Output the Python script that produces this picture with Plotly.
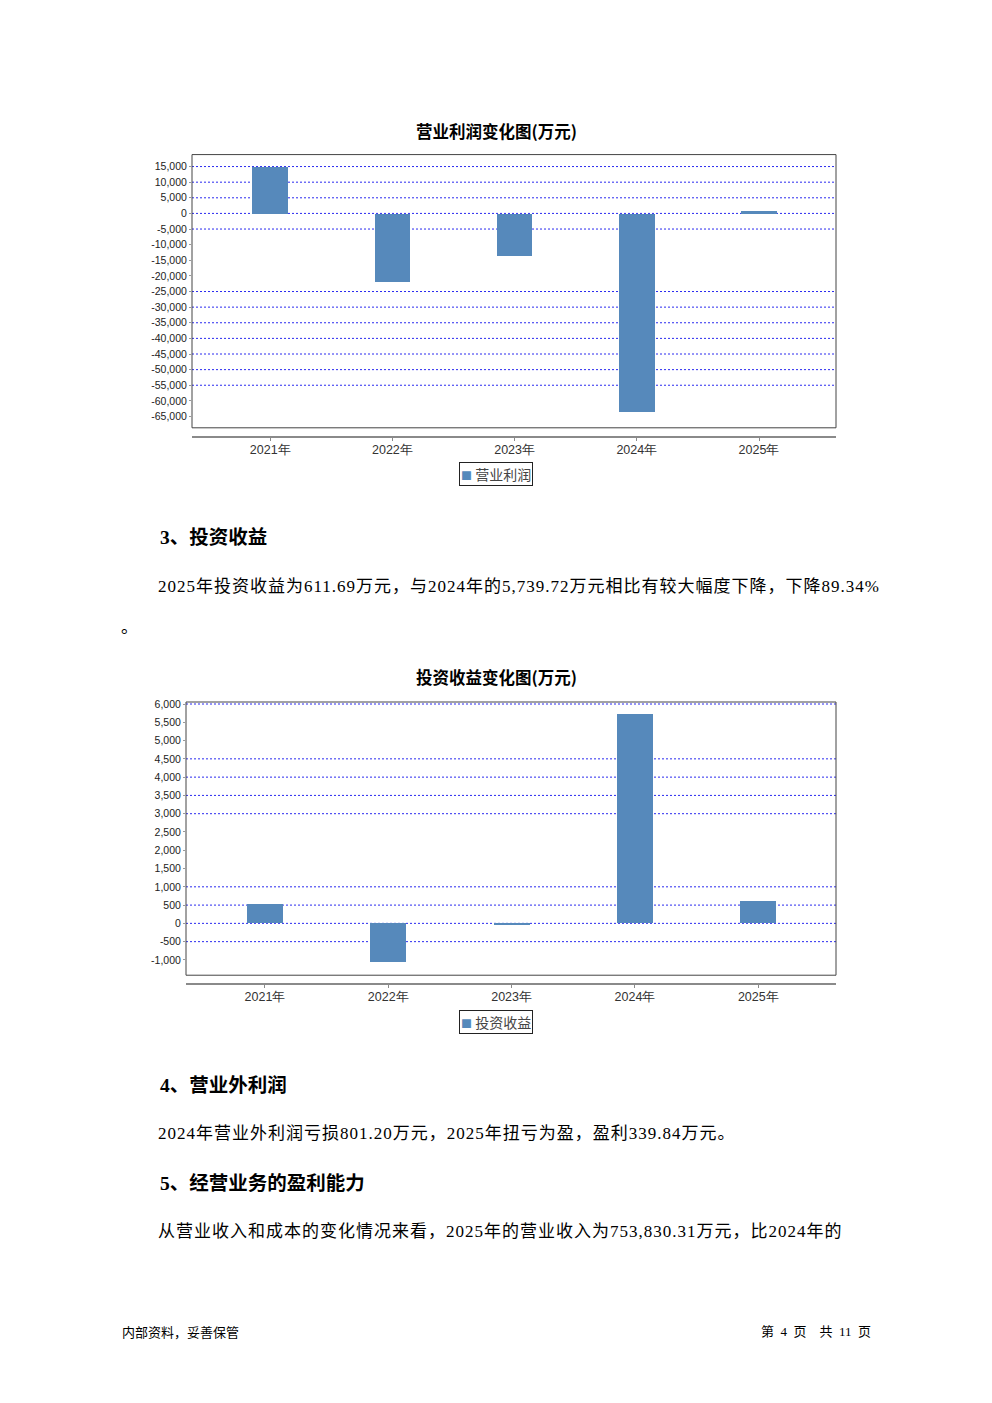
import plotly.graph_objects as go

PAGE_W, PAGE_H = 992, 1403
OFF = 8  # default body margin of the html page
OFF_Y = 10
W, H = PAGE_W - 2 * OFF, PAGE_H - 2 * OFF

years = ["2021年", "2022年", "2023年", "2024年", "2025年"]
op_profit = [14900, -21800, -13400, -63300, 950]
inv_income = [530, -1060, -18, 5739.72, 611.69]

op_ticks = list(range(-65000, 15001, 5000))
op_grid = [15000, 10000, 5000, 0, -5000, -25000, -30000, -35000, -40000, -45000, -50000, -55000]
inv_ticks = list(range(-1000, 6001, 500))
inv_grid = [6000, 4500, 4000, 3500, 3000, 1000, 500, 0, -500]

BAR = "#5689BB"
SERIF = "Liberation Serif, Noto Sans CJK SC"
CJK = "Noto Sans CJK SC"
TICKF = "Liberation Sans, Arial, sans-serif"


def py(p):
    return 1 - (p - OFF_Y) / H


def px(p):
    return (p - OFF) / W


fig = go.Figure()
fig.add_trace(go.Bar(x=years, y=op_profit, name="营业利润", marker=dict(color=BAR, line=dict(width=0)),
                     width=0.29, xaxis="x", yaxis="y", showlegend=False))
fig.add_trace(go.Bar(x=years, y=inv_income, name="投资收益", marker=dict(color=BAR, line=dict(width=0)),
                     width=0.29, xaxis="x2", yaxis="y2", showlegend=False))


def fmt(v):
    return f"{v:,}"


common_x = dict(type="category", range=[-0.64, 4.63], showgrid=False, zeroline=False,
                showline=True, linecolor="#8a8a8a", linewidth=2, ticks="outside", ticklen=3,
                tickcolor="#8a8a8a", tickfont=dict(family=TICKF, size=12.5, color="#333"),
                ticklabelstandoff=-2, anchor="free", fixedrange=True)
common_y = dict(showgrid=False, zeroline=False, showline=False, ticks="outside", ticklen=2,
                tickcolor="#999", tickfont=dict(family=TICKF, size=10.5, color="#222"), fixedrange=True)

fig.update_layout(
    width=W, height=H, margin=dict(l=0, r=0, t=0, b=0),
    paper_bgcolor="white", plot_bgcolor="white", bargap=0,
    xaxis=dict(common_x, domain=[px(192), px(836)], position=py(436)),
    yaxis=dict(common_y, domain=[py(427), py(153)], range=[-68620, 18830], anchor="x",
               tickvals=op_ticks, ticktext=[fmt(v) for v in op_ticks]),
    xaxis2=dict(common_x, domain=[px(186), px(836)], position=py(985)),
    yaxis2=dict(common_y, domain=[py(976), py(702)], range=[-1418, 6055], anchor="x2",
                tickvals=inv_ticks, ticktext=[fmt(v) for v in inv_ticks]),
)

shapes = []
for v in op_grid:
    shapes.append(dict(type="line", xref="x domain", yref="y", x0=0, x1=1, y0=v, y1=v,
                       line=dict(color="#2a2af0", width=1, dash="2px,2px"), layer="below"))
for v in inv_grid:
    shapes.append(dict(type="line", xref="x2 domain", yref="y2", x0=0, x1=1, y0=v, y1=v,
                       line=dict(color="#2a2af0", width=1, dash="2px,2px"), layer="below"))
# plot frames
shapes.append(dict(type="rect", xref="paper", yref="paper", x0=px(192), x1=px(836), y0=py(427), y1=py(153),
                   line=dict(color="#444", width=1)))
shapes.append(dict(type="rect", xref="paper", yref="paper", x0=px(186), x1=px(836), y0=py(976), y1=py(702),
                   line=dict(color="#444", width=1)))
fig.update_layout(shapes=shapes)

ann = []


def text(x, y, s, size, bold=False, family=SERIF, xanchor="left", color="#000", spacing=0):
    if spacing:
        s = f"<span style='letter-spacing:{spacing}px'>{s}</span>"
    if bold:
        s = f"<b>{s}</b>"
    ann.append(dict(x=px(x), y=py(y), xref="paper", yref="paper", text=s, showarrow=False,
                    xanchor=xanchor, yanchor="middle", font=dict(family=family, size=size, color=color)))


text(496, 129, "营业利润变化图(万元)", 16.5, bold=True, family=CJK, xanchor="center")
text(496, 677, "投资收益变化图(万元)", 16.5, bold=True, family=CJK, xanchor="center")

for cy, label in [(473.5, "营业利润"), (1022.5, "投资收益")]:
    ann.append(dict(x=px(496), y=py(cy), xref="paper", yref="paper",
                    text=f"<span style='color:{BAR};font-size:11px'>■</span> {label}", showarrow=False,
                    xanchor="center", yanchor="middle", bordercolor="#222", borderwidth=1, borderpad=1,
                    font=dict(family=CJK, size=14, color="#444")))

text(158, 537, "3、投资收益", 19.5, bold=True)
text(156, 586, "2025年投资收益为611.69万元，与2024年的5,739.72万元相比有较大幅度下降，下降89.34%", 17, spacing=1)
text(119, 627, "。", 17)
text(158, 1086, "4、营业外利润", 19.5, bold=True)
text(156, 1135, "2024年营业外利润亏损801.20万元，2025年扭亏为盈，盈利339.84万元。", 17, spacing=1)
text(158, 1185, "5、经营业务的盈利能力", 19.5, bold=True)
text(156, 1233, "从营业收入和成本的变化情况来看，2025年的营业收入为753,830.31万元，比2024年的", 17, spacing=1)
text(120, 1333, "内部资料，妥善保管", 13, family=CJK)
text(873, 1333, "第&nbsp;&nbsp;4&nbsp;&nbsp;页&nbsp;&nbsp;&nbsp;&nbsp;共&nbsp;&nbsp;11&nbsp;&nbsp;页", 13,
     family=SERIF, xanchor="right")

fig.update_layout(annotations=ann)
fig.write_html("out.html")
